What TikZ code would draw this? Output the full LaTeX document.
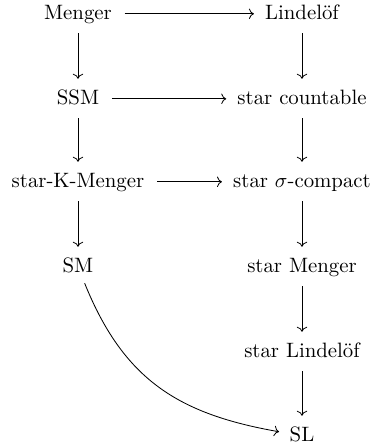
\documentclass[tikz,border=0pt]{standalone}
\usetikzlibrary{arrows.meta}
\begin{document}
\begin{tikzpicture}[x=0.4808pt,y=-0.4808pt,
  lbl/.style={anchor=base,inner sep=0pt,text height=6.94pt,text depth=1.94pt},
  imp/.style={-{Computer Modern Rightarrow[length=2.4pt,width=5pt]},line width=0.4pt},
  vimp/.style={imp,shorten <=4.6pt,shorten >=5pt},
  himp/.style={imp,shorten <=6pt,shorten >=5.2pt}]
\useasboundingbox (0,0) rectangle (372,446);
\node[lbl] (menger) at (78,19) {Menger};
\node[lbl] (lind) at (302,19) {Lindel\"of};
\node[lbl] (ssm) at (78,104) {SSM};
\node[lbl] (sc) at (302,104) {star countable};
\node[lbl] (skm) at (78,187) {star-K-Menger};
\node[lbl] (ssc) at (302,187) {star $\sigma$-compact};
\node[lbl] (sm) at (78,272) {SM};
\node[lbl] (smen) at (302,272) {star Menger};
\node[lbl] (slind) at (302,357) {star Lindel\"of};
\node[lbl] (sl) at (302,441) {SL};
\draw[himp] (menger) -- (lind);
\draw[himp] (ssm) -- (sc);
\draw[himp] (skm) -- (ssc);
\draw[vimp] (menger) -- (ssm);
\draw[vimp] (ssm) -- (skm);
\draw[vimp] (skm) -- (sm);
\draw[vimp] (lind) -- (sc);
\draw[vimp] (sc) -- (ssc);
\draw[vimp] (ssc) -- (smen);
\draw[vimp] (smen) -- (slind);
\draw[vimp] (slind) -- (sl);
\draw[imp,shorten <=3.5pt,shorten >=5pt] (sm) to[out=-68,in=170,looseness=1.1] (sl);
\end{tikzpicture}
\end{document}
